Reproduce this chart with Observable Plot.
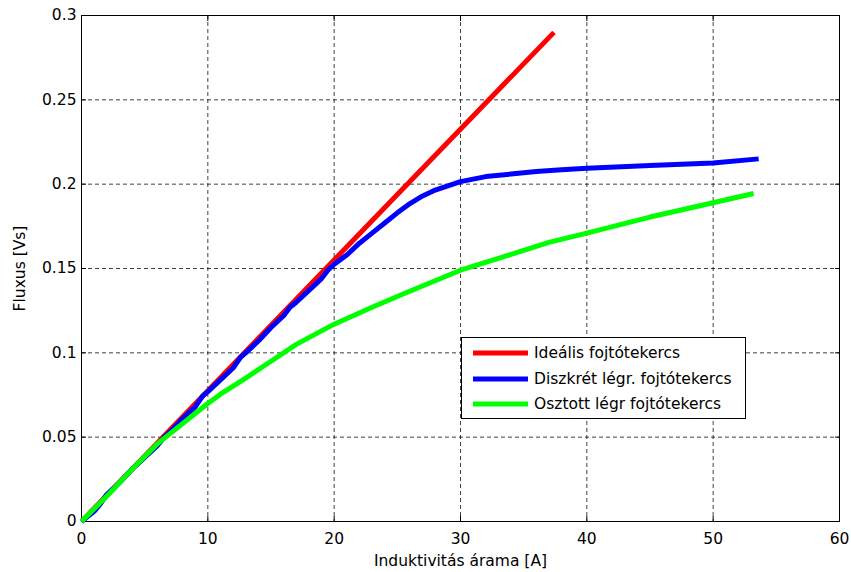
<!DOCTYPE html>
<html>
<head>
<meta charset="utf-8">
<script src="https://cdn.jsdelivr.net/npm/d3@7"></script>
<script src="https://cdn.jsdelivr.net/npm/@observablehq/plot@0.6"></script>
<style>
  body { margin: 0; background: #fff; }
  #wrap { position: relative; width: 851px; height: 572px; font-family: "DejaVu Sans", sans-serif; }
  #legend { position: absolute; left: 461px; top: 337px; width: 283px; height: 80px; background: #fff; border: 1px solid #000; box-sizing: content-box; }
  .entry { position: absolute; left: 0; height: 20px; display: flex; align-items: center; font-size: 15.5px; color: #000; white-space: nowrap; }
  .entry svg { margin-left: 11px; margin-right: 6px; }
</style>
</head>
<body>
<div id="wrap"><div id="legend"></div></div>
<script>
// Series names and colours
const seriesNames = ["Ideális fojtótekercs", "Diszkrét légr. fojtótekercs", "Osztott légr fojtótekercs"];
const seriesColors = ["#ff0000", "#0000ff", "#00ff00"];

// Ideal inductor (red)
const idealX = [0, 37.4];
const idealY = [0, 0.290];

// Discrete air-gap inductor (blue)
const discreteX = [0, 1, 1.5, 2, 3, 4, 5, 6, 6.6, 7, 8, 9, 9.6, 10, 11, 12, 12.6, 13, 14, 15, 16, 16.5, 17, 18, 19, 19.5, 20, 21, 22, 23, 24, 25, 26, 27, 28, 29, 30, 31, 32, 34, 36, 38, 40, 45, 50, 53.6];
const discreteY = [0, 0.006, 0.0105, 0.016, 0.023, 0.031, 0.038, 0.045, 0.0505, 0.053, 0.061, 0.068, 0.0745, 0.077, 0.084, 0.091, 0.0975, 0.100, 0.107, 0.115, 0.122, 0.127, 0.130, 0.137, 0.144, 0.149, 0.1525, 0.158, 0.165, 0.171, 0.177, 0.183, 0.1885, 0.193, 0.1965, 0.199, 0.2015, 0.203, 0.2045, 0.206, 0.2075, 0.2085, 0.2095, 0.211, 0.2125, 0.215];

// Distributed air-gap inductor (green)
const distributedX = [0, 2, 4, 6, 8, 9, 10, 11, 13, 15, 17, 20, 23, 25.5, 30, 33, 37, 40, 45, 50, 53.2];
const distributedY = [0, 0.015, 0.031, 0.046, 0.058, 0.064, 0.070, 0.0755, 0.085, 0.095, 0.105, 0.117, 0.127, 0.135, 0.149, 0.156, 0.1655, 0.171, 0.1805, 0.189, 0.1945];

// Axis ticks
const xTicks = [0, 10, 20, 30, 40, 50, 60];
const yTicks = [0, 0.05, 0.1, 0.15, 0.2, 0.25, 0.3];
const xLabel = "Induktivitás árama [A]";
const yLabel = "Fluxus [Vs]";

const toRows = (xs, ys, s) => xs.map((x, i) => ({x, y: ys[i], s}));
const ideal = toRows(idealX, idealY, seriesNames[0]);
const discrete = toRows(discreteX, discreteY, seriesNames[1]);
const distributed = toRows(distributedX, distributedY, seriesNames[2]);

const fmt = d => String(+d.toFixed(2));
const grid = {stroke: "#000", strokeOpacity: 0.75, strokeDasharray: "4,3", strokeWidth: 1};
const lineStyle = {strokeWidth: 5, strokeLinejoin: "round", strokeLinecap: "butt"};

const chart = Plot.plot({
  width: 851,
  height: 572,
  marginLeft: 81,
  marginRight: 12,
  marginTop: 15,
  marginBottom: 51,
  style: {fontFamily: "'DejaVu Sans', sans-serif", fontSize: "15.5px", color: "#000", background: "#fff"},
  x: {type: "linear", domain: [0, 60]},
  y: {type: "linear", domain: [0, 0.3]},
  marks: [
    Plot.gridX(xTicks, grid),
    Plot.gridY(yTicks, grid),
    Plot.frame({stroke: "#000", strokeWidth: 1}),
    Plot.axisX(xTicks, {anchor: "bottom", tickSize: -5, tickPadding: 16, fontSize: 15.5, label: xLabel, labelAnchor: "center", labelArrow: "none", labelOffset: 44}),
    Plot.axisX(xTicks, {anchor: "top", tickSize: -5, text: null, label: null}),
    Plot.axisY(yTicks, {anchor: "left", tickSize: -5, tickPadding: 10, fontSize: 15.5, tickFormat: fmt, label: yLabel, labelAnchor: "center", labelArrow: "none", labelOffset: 68}),
    Plot.axisY(yTicks, {anchor: "right", tickSize: -5, text: null, label: null}),
    Plot.lineY(ideal, {x: "x", y: "y", stroke: seriesColors[0], ...lineStyle}),
    Plot.lineY(discrete, {x: "x", y: "y", stroke: seriesColors[1], ...lineStyle}),
    Plot.lineY(distributed, {x: "x", y: "y", stroke: seriesColors[2], ...lineStyle})
  ]
});
document.getElementById("wrap").prepend(chart);

const legend = document.getElementById("legend");
seriesNames.forEach((name, i) => {
  const e = document.createElement("div");
  e.className = "entry";
  e.style.top = (5 + i * 25.5) + "px";
  e.innerHTML = `<svg width="55" height="6"><line x1="0" x2="55" y1="3" y2="3" stroke="${seriesColors[i]}" stroke-width="5"/></svg><span>${name}</span>`;
  legend.appendChild(e);
});
</script>
</body>
</html>
